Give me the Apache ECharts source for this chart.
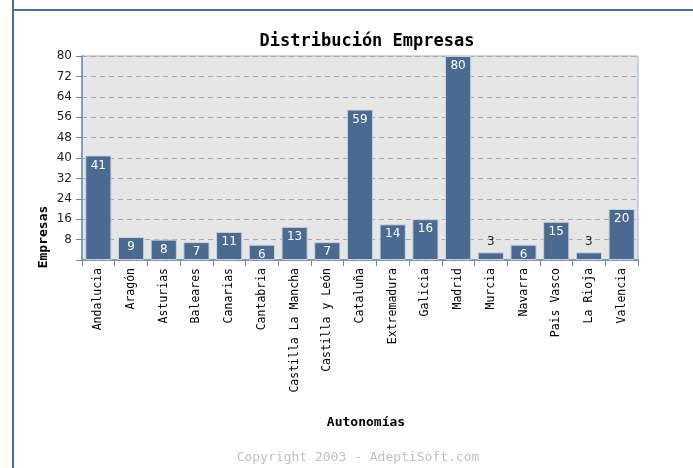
<!DOCTYPE html>
<html><head><meta charset="utf-8">
<script src="https://cdn.jsdelivr.net/npm/echarts@6/dist/echarts.min.js"></script>
<style>html,body{margin:0;padding:0;background:#fff}#c{width:693px;height:468px}</style>
</head><body><div id="c"></div>
<script>
const categories = ['Andalucia','Aragón','Asturias','Baleares','Canarias','Cantabria','Castilla La Mancha','Castilla y León','Cataluña','Extremadura','Galicia','Madrid','Murcia','Navarra','Pais Vasco','La Rioja','Valencia'];
const values = [41,9,8,7,11,6,13,7,59,14,16,80,3,6,15,3,20];
const yTicks = [8,16,24,32,40,48,56,64,72,80];
const titleText = 'Distribución Empresas';
const xName = 'Autonomías';
const yName = 'Empresas';
const footer = 'Copyright 2003 - AdeptiSoft.com';

const chart = echarts.init(document.getElementById('c'), null, {renderer:'canvas'});
const mono = '"DejaVu Sans Mono", monospace';
const sans = '"DejaVu Sans", sans-serif';
const axisColor = '#6a8ab0';
chart.setOption({
  animation:false,
  backgroundColor:'#fff',
  graphic:[
    {type:'line',shape:{x1:13,y1:0,x2:13,y2:468},style:{stroke:'#4a6fa0',lineWidth:2},silent:true},
    {type:'line',shape:{x1:12,y1:10,x2:693,y2:10},style:{stroke:'#4a6fa0',lineWidth:2},silent:true},
    {type:'text',x:367,y:42,style:{text:titleText,fontFamily:mono,fontWeight:'bold',fontSize:17,fill:'#000',textAlign:'center',textVerticalAlign:'middle'}},
    {type:'text',x:44,y:237,rotation:Math.PI/2,style:{text:yName,fontFamily:mono,fontWeight:'bold',fontSize:13,fill:'#000',textAlign:'center',textVerticalAlign:'middle'}},
    {type:'text',x:366,y:423,style:{text:xName,fontFamily:mono,fontWeight:'bold',fontSize:13,fill:'#000',textAlign:'center',textVerticalAlign:'middle'}},
    {type:'text',x:358,y:458,style:{text:footer,fontFamily:mono,fontSize:13,fill:'#c0c0c0',textAlign:'center',textVerticalAlign:'middle'}}
  ],
  grid:{left:82,right:55,top:56,bottom:208,show:true,backgroundColor:'#e6e6e6',borderColor:'#9fb3cc',borderWidth:1},
  xAxis:{type:'category',data:categories,
    axisLine:{lineStyle:{color:axisColor,width:1.5}},
    axisTick:{show:true,length:6,lineStyle:{color:axisColor}},
    axisLabel:{rotate:90,fontFamily:mono,fontSize:11.5,color:'#000',margin:8,interval:0}},
  yAxis:{type:'value',min:0,max:80,interval:8,
    axisLine:{show:true,lineStyle:{color:axisColor,width:1.5}},
    axisTick:{show:true,length:6,lineStyle:{color:axisColor}},
    axisLabel:{fontFamily:sans,fontSize:12,color:'#222',margin:10,formatter:v=>yTicks.includes(v)?String(v):''},
    splitLine:{show:true,lineStyle:{color:'#a8a8a8',type:[5,4],width:1}}},
  series:[{type:'bar',barCategoryGap:'20%',
    data:values.map(v=>({value:v,label: v<5?{position:'top',color:'#222'}:{position:'insideTop',color:'#fff'}})),
    itemStyle:{color:'#4b6a91',borderColor:'#c9d3df',borderWidth:1},
    label:{show:true,fontFamily:sans,fontSize:12,distance:4}}]
});
</script></body></html>
